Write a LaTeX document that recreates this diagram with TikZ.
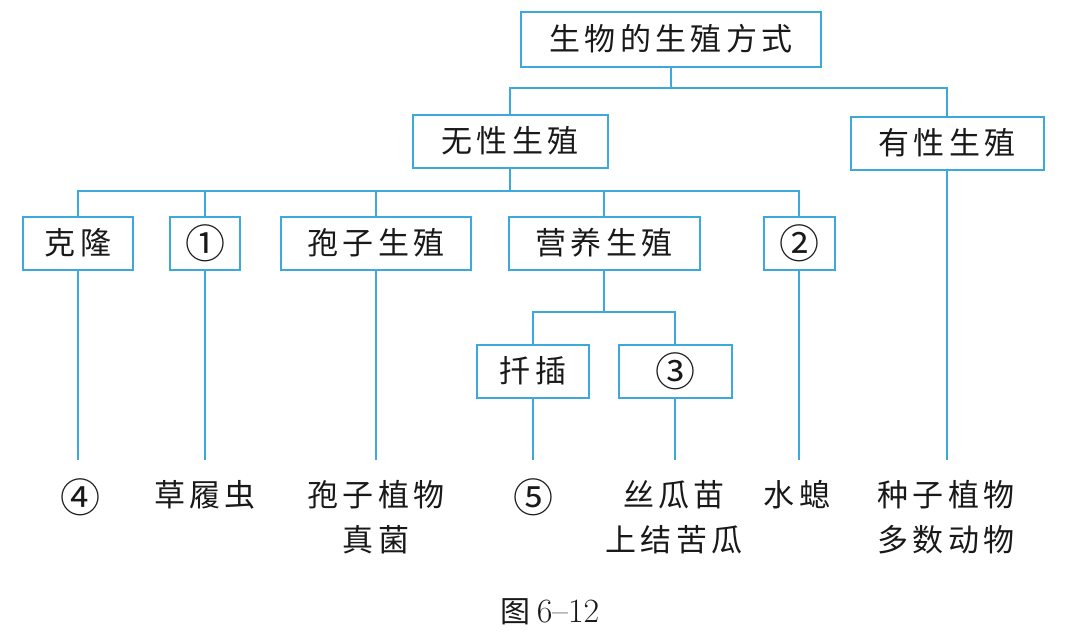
\documentclass[tikz,border=0pt]{standalone}
\usepackage{fontspec}
\newfontfamily\cjk{Noto Sans CJK SC}[LetterSpace=14]
\newfontfamily\cjkplain{Noto Sans CJK SC}
\newcommand{\cnum}[1]{{\cjkplain\fontsize{40}{36}\selectfont #1}}
\definecolor{lineblue}{RGB}{60,168,220}
\definecolor{ink}{RGB}{25,25,25}
\begin{document}
\begin{tikzpicture}[x=1pt,y=-1pt,
  box/.style={draw=lineblue, line width=2pt, minimum height=53pt, inner sep=0pt,
    font=\cjk\fontsize{31}{36}\selectfont, text=ink},
  conn/.style={draw=lineblue, line width=2pt},
  leaf/.style={font=\cjk\fontsize{31}{45}\selectfont, align=center, anchor=north,
    inner sep=0pt, text=ink}]
\useasboundingbox (0,0) rectangle (1065,635);
% boxes
\node[box, minimum width=300pt, minimum height=55pt] (root) at (671,39) {生物的生殖方式};
\node[box, minimum width=195pt] (asex) at (510,141) {无性生殖};
\node[box, minimum width=193pt] (sex) at (947,143) {有性生殖};
\node[box, minimum width=110pt] (clone) at (78,243) {克隆};
\node[box, minimum width=70pt] (c1) at (205,243) {\cnum{①}};
\node[box, minimum width=190pt] (spore) at (376,243) {孢子生殖};
\node[box, minimum width=191pt] (veg) at (604,243) {营养生殖};
\node[box, minimum width=71pt] (c2) at (799,243) {\cnum{②}};
\node[box, minimum width=112pt] (cut) at (533,371) {扦插};
\node[box, minimum width=113pt] (c3) at (675,371) {\cnum{③}};
% junctions
\coordinate (j0) at (671,88);
\coordinate (j1) at (510,191);
\coordinate (j2) at (604,312);
\coordinate (lend) at (0,460);
% connectors
\draw[conn] (root.south) -- (j0);
\draw[conn] (asex.north) |- (j0) -| (sex.north);
\draw[conn] (asex.south) -- (j1);
\draw[conn] (clone.north) |- (j1) -| (c2.north);
\draw[conn] (c1.north) -- (c1.north |- j1);
\draw[conn] (spore.north) -- (spore.north |- j1);
\draw[conn] (veg.north) -- (veg.north |- j1);
\draw[conn] (veg.south) -- (j2);
\draw[conn] (cut.north) |- (j2) -| (c3.north);
\draw[conn] (clone.south) -- (clone.south |- lend);
\draw[conn] (c1.south) -- (c1.south |- lend);
\draw[conn] (spore.south) -- (spore.south |- lend);
\draw[conn] (cut.south) -- (cut.south |- lend);
\draw[conn] (c3.south) -- (c3.south |- lend);
\draw[conn] (c2.south) -- (c2.south |- lend);
\draw[conn] (sex.south) -- (sex.south |- lend);
% leaves
\node[leaf] (l4) at (80,478) {\cnum{④}};
\node[leaf] (lcao) at (205,480) {草履虫};
\node[leaf] (lspore) at (376,480) {孢子植物\\真菌};
\node[leaf] (l5) at (533,478) {\cnum{⑤}};
\node[leaf] (lsig) at (674,480) {丝瓜苗\\上结苦瓜};
\node[leaf] (lshui) at (797,480) {水螅};
\node[leaf] (lseed) at (946,480) {种子植物\\多数动物};
% caption
\node[text=ink, inner sep=0pt] (cap) at (550,612)
  {{\cjkplain\fontsize{30}{36}\selectfont 图}\hspace{6pt}{\fontsize{34}{36}\selectfont 6--12}};
\end{tikzpicture}
\end{document}
